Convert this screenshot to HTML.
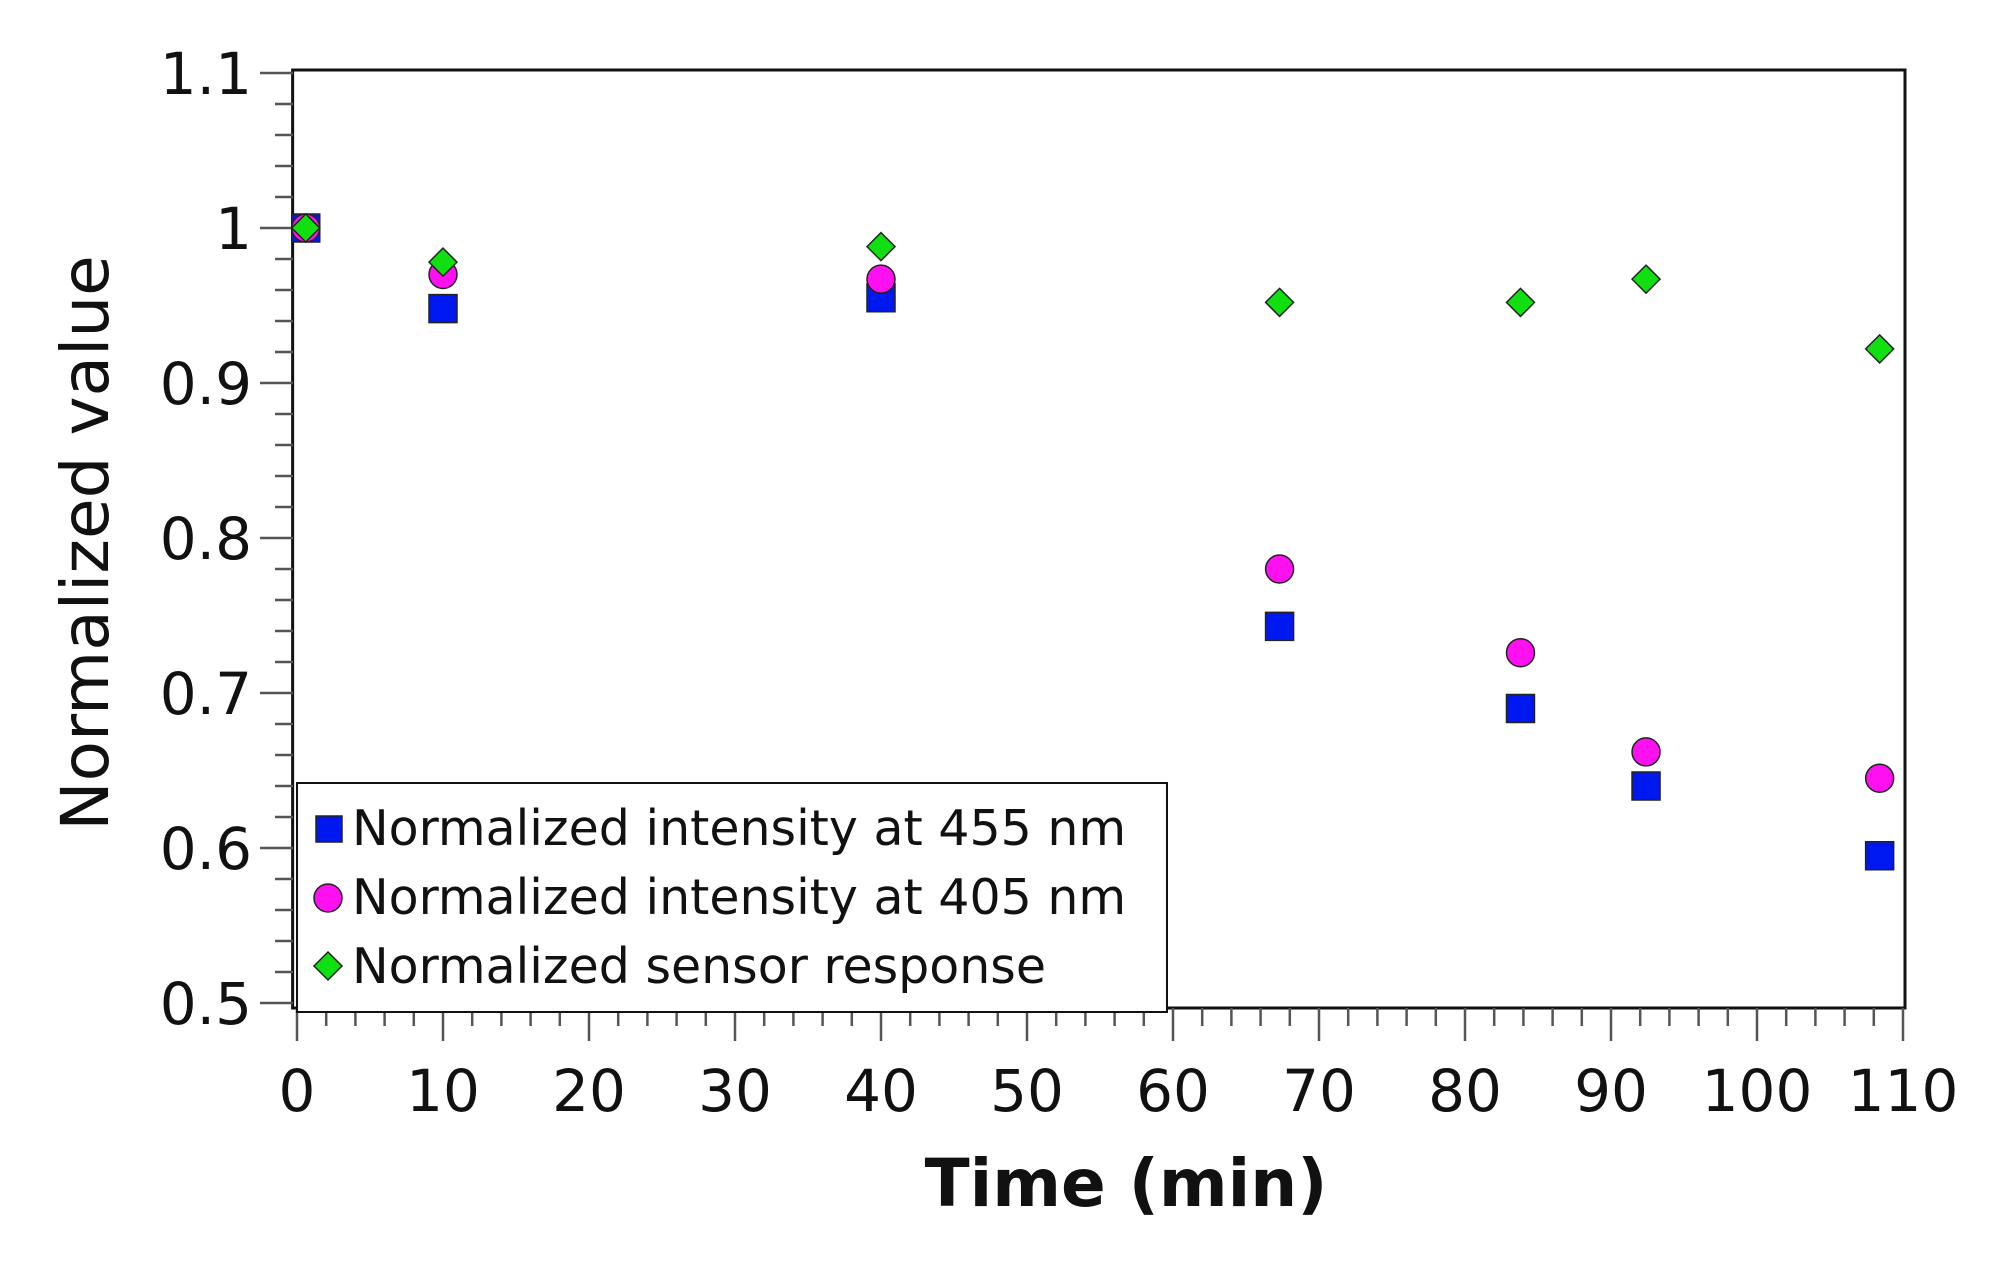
<!DOCTYPE html>
<html><head><meta charset="utf-8"><style>
body{margin:0;background:#fff}
svg text{font-family:"DejaVu Sans","Liberation Sans",sans-serif;fill:#111}
</style></head><body>
<svg id="chart" width="1997" height="1258" xmlns="http://www.w3.org/2000/svg">
<g id="axes"></g><g id="marks"></g>
<g id="legend">
<rect x="297" y="783" width="870" height="229" fill="#fff" stroke="#111" stroke-width="2"/>
<g><rect x="316" y="816" width="26" height="26" fill="#0018f0" stroke="#222" stroke-width="1.5"/><text x="352" y="845" font-size="49">Normalized intensity at 455 nm</text></g>
<g><circle cx="328" cy="898" r="14" fill="#ff10f0" stroke="#222" stroke-width="1.5"/><text x="352" y="914" font-size="49">Normalized intensity at 405 nm</text></g>
<g><polygon points="328,952 342,966 328,980 314,966" fill="#10e010" stroke="#222" stroke-width="1.5"/><text x="352" y="983" font-size="49">Normalized sensor response</text></g>
</g>
<text transform="translate(108,543) rotate(-90)" text-anchor="middle" font-size="66">Normalized value</text>
<text x="1126" y="1206" text-anchor="middle" font-size="66" font-weight="bold">Time (min)</text>
</svg>
<script>
const times=[0.6,10,40,67.3,83.8,92.4,108.4];
const int455=[1.0,0.948,0.955,0.743,0.690,0.640,0.595];
const int405=[1.0,0.970,0.967,0.780,0.726,0.662,0.645];
const sensor=[1.0,0.978,0.988,0.952,0.952,0.967,0.922];
const xTicks=[0,10,20,30,40,50,60,70,80,90,100,110];
const yTicks=[0.5,0.6,0.7,0.8,0.9,1,1.1];
const yTickLabels=["0.5","0.6","0.7","0.8","0.9","1","1.1"];
const NS="http://www.w3.org/2000/svg";
const X=v=>297+v*14.6, Y=v=>228-(v-1)*1550;
function mk(t,a,p){const e=document.createElementNS(NS,t);for(const k in a)e.setAttribute(k,a[k]);p.appendChild(e);return e;}
const ax=document.getElementById('axes'),mg=document.getElementById('marks');
const frame=mk('rect',{x:X(-0.3),y:70,width:1905-X(-0.3),height:1008-70,fill:'none',stroke:'#111','stroke-width':3},ax);


for(let v=0;v<=110;v+=2){const maj=v%10===0;const l=mk('line',{x1:X(v),x2:X(v),y1:1008,y2:1008+(maj?33:18),stroke:'#555','stroke-width':2.5},ax);

}
for(let i=0;i<=30;i++){const v=0.5+i*0.02;const maj=i%5===0;const l=mk('line',{x1:293-(maj?33:18),x2:293,y1:Y(v),y2:Y(v),stroke:'#555','stroke-width':2.5},ax);

}
xTicks.forEach(v=>{const t=mk('text',{x:X(v),y:1111,'text-anchor':'middle','font-size':58},ax);t.textContent=String(v);

});
yTicks.forEach((v,i)=>{const t=mk('text',{x:252,y:Y(v)+21,'text-anchor':'end','font-size':58},ax);t.textContent=yTickLabels[i];

});
times.forEach((t,i)=>{const s=mk('rect',{x:X(t)-14,y:Y(int455[i])-14,width:28,height:28,fill:'#0018f0',stroke:'#222','stroke-width':1.5},mg);

});
times.forEach((t,i)=>{const c=mk('circle',{cx:X(t),cy:Y(int405[i]),r:14,fill:'#ff10f0',stroke:'#222','stroke-width':1.5},mg);

});
times.forEach((t,i)=>{const x=X(t),y=Y(sensor[i]);const p=mk('polygon',{points:`${x},${y-14} ${x+14},${y} ${x},${y+14} ${x-14},${y}`,fill:'#10e010',stroke:'#222','stroke-width':1.5},mg);

});
</script>
</body></html>
